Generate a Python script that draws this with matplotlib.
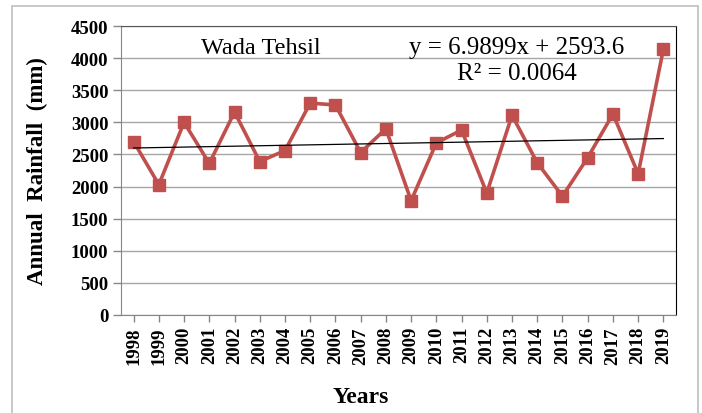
import matplotlib

matplotlib.use("Agg")

import matplotlib.pyplot as plt  # noqa: E402
from matplotlib.patches import Rectangle  # noqa: E402
import numpy as np  # noqa: E402

plt.rcParams["font.family"] = ["Liberation Serif", "DejaVu Serif"]

years = [str(y) for y in range(1998, 2020)]
rainfall = [2700, 2030, 3000, 2360, 3160, 2390, 2560, 3300, 3270, 2530, 2900,
            1780, 2680, 2880, 1900, 3110, 2370, 1850, 2450, 3130, 2200, 4140]
trend_slope = 6.9899
trend_intercept = 2593.6
y_ticks = list(range(0, 4501, 500))

fig = plt.figure(figsize=(7.02, 4.14), dpi=100)
fig.patches.append(Rectangle((12 / 702, -0.05), 686 / 702, 1.05 - 7 / 414,
                             transform=fig.transFigure, fill=False,
                             edgecolor="#BFBFBF", linewidth=1.2))
ax = fig.add_axes([121 / 702, 98 / 414, 555 / 702, 289 / 414])

x = np.arange(len(years))
ax.plot(x, rainfall, color="#C0504D", linewidth=2.6, marker="s",
        markersize=8.5, zorder=3)

# linear trendline from the equation shown on the chart (x = 1..n)
xi = np.array([1, len(years)])
ax.plot(xi - 1, trend_slope * xi + trend_intercept, color="black",
        linewidth=0.9, zorder=4)

ax.set_xlim(-0.5, len(years) - 0.5)
ax.set_ylim(0, 4500)
ax.set_yticks(y_ticks)
ax.set_yticklabels([str(t) for t in y_ticks], fontsize=13.5, fontweight="bold")
ax.set_xticks(x)
ax.set_xticklabels(years, rotation=90, fontsize=13.5, fontweight="bold")
ax.grid(axis="y", color="#A6A6A6", linewidth=1)
ax.set_axisbelow(True)
ax.tick_params(axis="both", color="#868686", length=5, width=1, pad=3)
ax.tick_params(axis="y", length=6)
for side in ["left", "bottom"]:
    ax.spines[side].set_color("#868686")
ax.spines["top"].set_color("#555555")
ax.spines["right"].set_color("black")

ax.set_ylabel("Annual  Rainfall  (mm)", fontsize=16.5, fontweight="bold")
ax.yaxis.set_label_coords(-0.132, 0.5)
fig.text(361 / 702, 1 - 398 / 414, "Years", fontsize=17, fontweight="bold",
         ha="center", va="center")

fig.text(261 / 702, 1 - 54 / 414, "Wada Tehsil", fontsize=17.5,
         ha="center", va="baseline")
fig.text(517 / 702, 1 - 48 / 414, "y = 6.9899x + 2593.6", fontsize=18,
         ha="center", va="center")
fig.text(517 / 702, 1 - 74 / 414, "R² = 0.0064", fontsize=18,
         ha="center", va="center")

fig.savefig("out.png", dpi=100)
plt.close(fig)
